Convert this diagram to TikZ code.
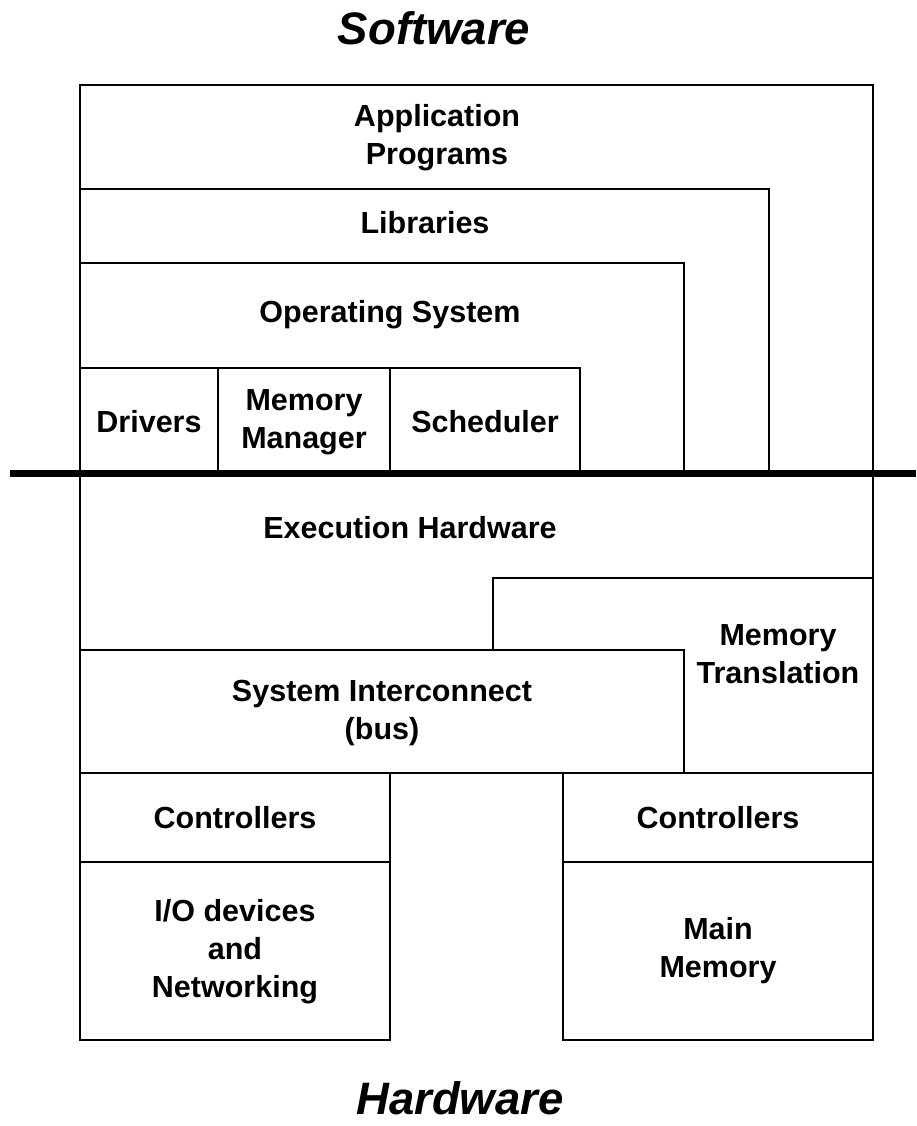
\documentclass[tikz,border=0pt]{standalone}
\usepackage{fontspec}
\setmainfont{Liberation Sans}

\begin{document}
\begin{tikzpicture}[x=1pt, y=-1pt,
        camada/.style={font=\fontsize{30.5}{38}\selectfont\bfseries, align=center, inner sep=0pt},
        titulo/.style={font=\fontsize{45.5}{50}\selectfont\bfseries\itshape, inner sep=0pt, anchor=base},
        linha/.style={line width=2pt},
        barra/.style={line width=7pt}]

        \useasboundingbox (0,0) rectangle (916,1126);

        % Camadas de software
        \draw[linha] (80,473) -- (80,85) -- (873,85) -- (873,473);
        \draw[linha] (80,189) -| (769,473);
        \draw[linha] (80,263) -| (684,473);
        \draw[linha] (80,368) -| (580,473);
        \draw[linha] (218,368) -- (218,473);
        \draw[linha] (390,368) -- (390,473);

        % Camadas de hardware
        \draw[linha] (80,473) -- (80,1040) -| (390,773);
        \draw[linha] (873,473) -- (873,1040) -| (563,773);
        \draw[linha] (80,773) -- (873,773);
        \draw[linha] (80,862) -- (390,862);
        \draw[linha] (563,862) -- (873,862);
        \draw[linha] (80,650) -| (684,773);
        \draw[linha] (493,650) |- (873,578);

        % Fronteira
        \draw[barra] (10,473) -- (916,473);

        % Textos
        \node (sw) [titulo] at (434,45) {Software};
        \node (hw) [titulo] at (460,1114) {Hardware};

        \node (app) [camada] at (437,138) {Application\\Programs};
        \node (libs) [camada] at (425,223) {Libraries};
        \node (os) [camada] at (390,315) {Operating System};
        \node (drv) [camada] at (149,422) {Drivers};
        \node (memmgr) [camada] at (304,422) {Memory\\Manager};
        \node (sched) [camada] at (485,422) {Scheduler};

        \node (exec) [camada] at (410,528) {Execution Hardware};
        \node (memtrans) [camada] at (778,654) {Memory\\Translation};
        \node (bus) [camada] at (382,713) {System Interconnect\\(bus)};
        \node (ctrlio) [camada] at (235,818) {Controllers};
        \node (io) [camada] at (235,952) {I/O devices\\and\\Networking};
        \node (ctrlmem) [camada] at (718,818) {Controllers};
        \node (mem) [camada] at (718,951) {Main\\Memory};
\end{tikzpicture}
\end{document}
